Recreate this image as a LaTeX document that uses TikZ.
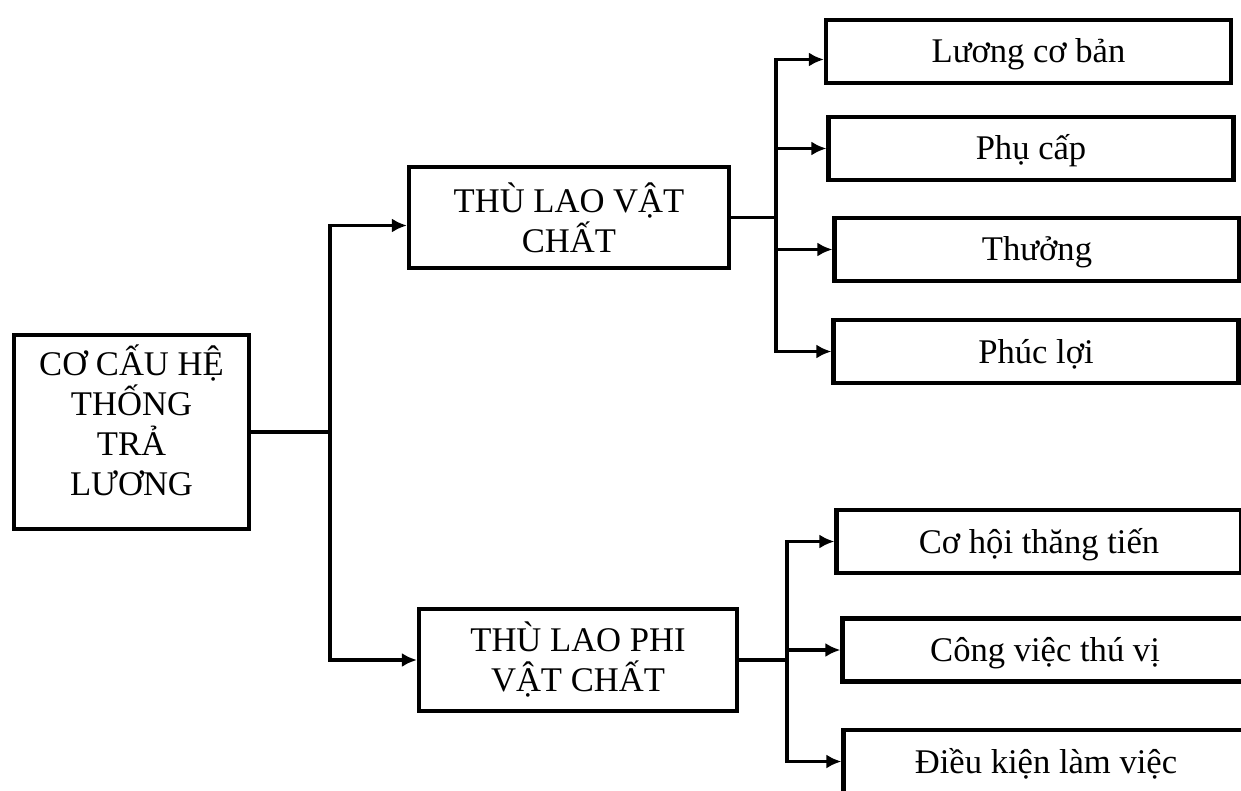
\documentclass[tikz,border=0pt]{standalone}
\usepackage{fontspec}
\setmainfont{Liberation Serif}
\usetikzlibrary{arrows.meta,positioning}

\begin{document}
\begin{tikzpicture}[x=0.5pt,y=-0.5pt,>={Latex[length=7.5pt,width=7pt]},
    box/.style={draw,line width=2.1pt,align=center,inner sep=0pt,
                font=\fontsize{17.3}{20}\selectfont},
    leaf/.style={box,minimum width=202.5pt,minimum height=31.5pt,
                 text height=15pt,text depth=3.5pt},
    link/.style={line width=1.6pt},
    arrow/.style={link,->}]

                        \clip (0,0) rectangle (1241,791);

                        \node[box,minimum width=117.5pt,minimum height=97pt] (root) at (131.5,432)
                            {CƠ CẤU HỆ\\THỐNG\\TRẢ\\LƯƠNG\rule[-12pt]{0pt}{12pt}};
                        \node[box,minimum width=160pt,minimum height=50.5pt] (vc) at (569,217.5) {THÙ LAO VẬT\\CHẤT};
                        \node[box,minimum width=159pt,minimum height=51pt] (pvc) at (578,660) {THÙ LAO PHI\\VẬT CHẤT};

                        \node[leaf] (luong) at (1028.5,51.5) {Lương cơ bản};
                        \node[leaf] (phucap) at (1031,148.5) {Phụ cấp};
                        \node[leaf] (thuong) at (1037,249.5) {Thưởng};
                        \node[leaf] (phucloi) at (1036,351.5) {Phúc lợi};

                        \node[leaf] (cohoi) at (1039,541.5) {Cơ hội thăng tiến};
                        \node[leaf] (congviec) at (1045,650) {Công việc thú vị};
                        \node[leaf] (dieukien) at (1046,761.5) {Điều kiện làm việc};

                        \coordinate (jr) at (330,432);
                        \coordinate (jvc) at (776,217.5);
                        \coordinate (jpvc) at (787,660);

                        \draw[link] (root.east) -- (jr);
                        \draw[arrow] (jr) |- ([yshift=-4pt]vc.west);
                        \draw[arrow] (jr) |- (pvc.west);

                        \draw[link] (vc.east) -- (jvc);
                        \draw[arrow] (jvc) |- ([yshift=-4pt]luong.west);
                        \foreach \n in {phucap,thuong,phucloi}
                            \draw[arrow] (jvc) |- (\n.west);

                        \draw[link] (pvc.east) -- (jpvc);
                        \foreach \n in {cohoi,congviec,dieukien}
                            \draw[arrow] (jpvc) |- (\n.west);
                    \end{tikzpicture}
\end{document}
